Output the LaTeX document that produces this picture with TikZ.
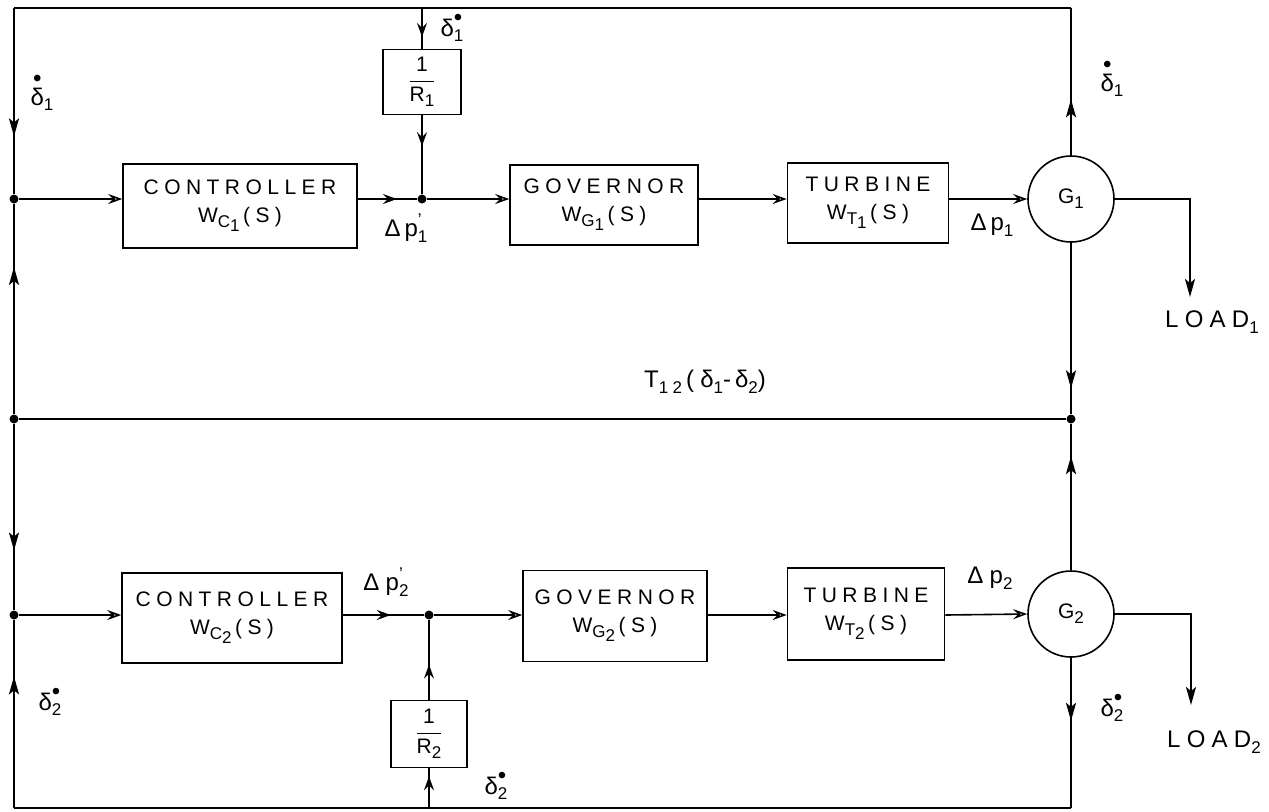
\documentclass[tikz,border=0pt]{standalone}
\usepackage{amsmath}
\usepackage{fontspec}
\setmainfont{Liberation Sans}[LetterSpace=26]
\usetikzlibrary{arrows.meta,decorations.markings}

\newcommand{\lo}[1]{\raisebox{-0.45ex}{\fontsize{8.5}{9}\selectfont #1}}
\newcommand{\hi}[1]{\raisebox{0.85ex}{\fontsize{8.5}{9}\selectfont #1}}
\newcommand{\ddl}{$\overset{\bullet}{\text{δ}}$}
\newcommand{\sdl}[1]{δ\rlap{\hi{\large•}}\lo{#1}}

\begin{document}
\begin{tikzpicture}[
  x=0.5pt, y=-0.5pt,
  every node/.style={font=\fontsize{10.5}{12}\selectfont},
  blk/.style={draw, line width=0.8pt, align=center, inner sep=1pt},
  gen/.style={draw, circle, line width=0.8pt, minimum size=43pt, inner sep=0pt},
  jn/.style={circle, fill, inner sep=0pt, minimum size=4.5pt},
  lbl/.style={inner sep=1pt, font=\fontsize{12}{13}\selectfont},
  lp/.style={line width=1.1pt},
  sg/.style={line width=0.8pt},
  tp/.style={-{Stealth[open, length=7pt, width=5pt, inset=2.5pt]}},
  mida/.style={postaction={decorate}, decoration={markings,
    mark=at position #1 with {\arrow{Stealth[length=9pt, width=5pt, inset=2pt]}}}},
  mids/.style={postaction={decorate}, decoration={markings,
    mark=at position #1 with {\arrow{Stealth[open, length=7pt, width=5pt, inset=2.5pt]}}}}
]
\useasboundingbox (0,0) rectangle (1269,811);

\coordinate (tl) at (14,8);
\coordinate (tr) at (1071,8);
\coordinate (bl) at (14,808);
\coordinate (br) at (1071,808);
\coordinate (tq) at (422,8);
\coordinate (bq) at (429,808);
\coordinate (lda) at (1190,297);
\coordinate (ldb) at (1191,705);

\node[jn] (jla) at (14,199) {};
\node[jn] (jlm) at (14,419) {};
\node[jn] (jrm) at (1071,419) {};
\node[jn] (jlb) at (14,615) {};
\node[jn] (jra) at (422,199) {};
\node[jn] (jrb) at (429,615) {};

\node[blk, minimum width=117pt, minimum height=42pt] (ctla) at (240,206) {CONTROLLER\\[2pt]W\lo{C\lo{1}}\,(S)};
\node[blk, minimum width=94pt, minimum height=40pt] (gova) at (604,205) {GOVERNOR\\[2pt]W\lo{G\lo{1}}\,(S)};
\node[blk, minimum width=80.5pt, minimum height=40pt] (tura) at (868,203) {TURBINE\\[2pt]W\lo{T\lo{1}}\,(S)};
\node[gen] (gena) at (1071,199) {G\lo{1}};
\node[blk, minimum width=39pt, minimum height=32.5pt] (ra) at (422,82) {$\dfrac{\text{1}}{\text{R\lo{1}}}$};

\node[blk, minimum width=110pt, minimum height=45pt] (ctlb) at (232,618) {CONTROLLER\\[2pt]W\lo{C\lo{2}}\,(S)};
\node[blk, minimum width=92pt, minimum height=45.5pt] (govb) at (615,616) {GOVERNOR\\[2pt]W\lo{G\lo{2}}\,(S)};
\node[blk, minimum width=78.5pt, minimum height=46pt] (turb) at (866,614) {TURBINE\\[2pt]W\lo{T\lo{2}}\,(S)};
\node[gen] (genb) at (1071,614) {G\lo{2}};
\node[blk, minimum width=38pt, minimum height=33.5pt] (rb) at (429,734) {$\dfrac{\text{1}}{\text{R\lo{2}}}$};

\draw[lp] (tl) -- (tr);
\draw[lp] (bl) -- (br);
\draw[lp] (jlm) -- (jrm);
\draw[lp, mida=0.69] (tl) -- (jla);
\draw[lp, mida=0.70] (jlm) -- (jla);
\draw[lp, mida=0.68] (jlm) -- (jlb);
\draw[lp, mida=0.70] (bl) -- (jlb);
\draw[lp, mida=0.38] (gena) -- (tr);
\draw[lp, mida=0.85] (gena) -- (jrm);
\draw[lp, mida=0.78] (genb) -- (jrm);
\draw[lp, mida=0.42] (genb) -- (br);
\draw[lp, -{Stealth[length=9pt, width=5pt, inset=2pt]}] (gena.east) -| (lda);
\draw[lp, -{Stealth[length=9pt, width=5pt, inset=2pt]}] (genb.east) -| (ldb);

\draw[sg, mids=0.71] (tq) -- (ra);
\draw[sg, mids=0.39] (ra) -- (jra);
\draw[sg, mids=0.66] (ctla.east |- jra) -- (jra);
\draw[sg, tp] (jla) -- (ctla.west |- jla);
\draw[sg, tp] (jra) -- (gova.west |- jra);
\draw[sg, tp] (gova.east |- jra) -- (tura.west |- jra);
\draw[sg, tp] (tura.east |- jra) -- (gena.west);

\draw[sg, mids=0.8] (bq) -- (rb);
\draw[sg, mids=0.44] (rb) -- (jrb);
\draw[sg, mids=0.59] (ctlb.east |- jrb) -- (jrb);
\draw[sg, tp] (jlb) -- (ctlb.west |- jlb);
\draw[sg, tp] (jrb) -- (govb.west |- jrb);
\draw[sg, tp] (govb.east |- jrb) -- (turb.west |- jrb);
\draw[sg, tp] (turb.east |- jrb) -- (genb.west);

\node[lbl] (la1) at (42,92) {\ddl\lo{1}};
\node[lbl] (lb1) at (452,28) {\sdl{1}};
\node[lbl] (lc1) at (406,228) {Δ\,p\rlap{\hi{'}}\lo{1}};
\node[lbl] (ld1) at (992,225) {Δ\,p\lo{1}};
\node[lbl] (le1) at (1112,78) {\ddl\lo{1}};
\node[lbl] (lf1) at (1212,322) {LOAD\lo{1}};
\node[lbl] (lt) at (705,382) {T\lo{12}\,(δ\lo{1}-\,δ\lo{2})};
\node[lbl] (lc2) at (386,582) {Δp\rlap{\hi{'}}\lo{2}};
\node[lbl] (ld2) at (990,578) {Δp\lo{2}};
\node[lbl] (la2) at (50,702) {\sdl{2}};
\node[lbl] (lb2) at (496,786) {\sdl{2}};
\node[lbl] (le2) at (1112,708) {\sdl{2}};
\node[lbl] (lf2) at (1214,742) {LOAD\lo{2}};

\end{tikzpicture}
\end{document}
